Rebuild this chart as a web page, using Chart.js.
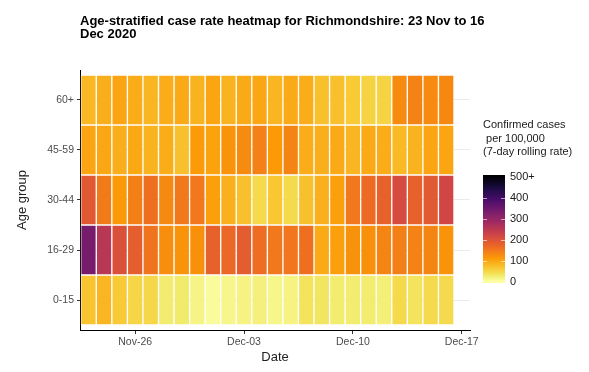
<!DOCTYPE html>
<html>
<head>
<meta charset="utf-8">
<script src="https://cdn.jsdelivr.net/npm/chart.js@4.4.1/dist/chart.umd.min.js"></script>
<style>
  html, body { margin: 0; padding: 0; background: #fff; }
  #wrap { width: 589px; height: 372px; }
</style>
</head>
<body>
<div id="wrap"><canvas id="heat" width="589" height="372"></canvas></div>
<script>
// Age-stratified heatmap, Richmondshire, 23 Nov - 16 Dec 2020

const AGE_GROUPS = ['0-15', '16-29', '30-44', '45-59', '60+'];
const DAYS = [
    '2020-11-23', '2020-11-24', '2020-11-25', '2020-11-26', '2020-11-27', '2020-11-28',
    '2020-11-29', '2020-11-30', '2020-12-01', '2020-12-02', '2020-12-03', '2020-12-04',
    '2020-12-05', '2020-12-06', '2020-12-07', '2020-12-08', '2020-12-09', '2020-12-10',
    '2020-12-11', '2020-12-12', '2020-12-13', '2020-12-14', '2020-12-15', '2020-12-16'
];

// 7-day rolling rate per 100,000, one array per age group
const RATE_0_15  = [68, 82, 62, 50, 48, 25, 28, 15, 4, 13, 16, 20, 13, 16, 36, 34, 26, 25, 26, 22, 45, 36, 45, 45];
const RATE_16_29 = [335, 252, 202, 182, 155, 125, 118, 122, 178, 168, 185, 162, 150, 152, 160, 95, 105, 120, 122, 135, 142, 138, 135, 118];
const RATE_30_44 = [190, 146, 112, 142, 160, 130, 148, 150, 105, 88, 72, 45, 65, 45, 72, 88, 105, 150, 165, 178, 211, 178, 188, 219];
const RATE_45_59 = [100, 98, 90, 96, 85, 92, 72, 110, 102, 118, 128, 140, 112, 135, 92, 90, 95, 82, 95, 92, 78, 85, 100, 100];
const RATE_60P   = [80, 90, 100, 92, 82, 92, 95, 85, 100, 85, 95, 98, 82, 95, 92, 72, 72, 62, 52, 52, 128, 138, 128, 132];

const RATES = [RATE_0_15, RATE_16_29, RATE_30_44, RATE_45_59, RATE_60P];

// x tick positions (day index) and labels
const X_TICKS = [3, 10, 17, 24];
const X_TICK_LABELS = ['Nov-26', 'Dec-03', 'Dec-10', 'Dec-17'];
const LEGEND_TICKS = [0, 100, 200, 300, 400, 500];
const LEGEND_LABELS = ['0', '100', '200', '300', '400', '500+'];

// inferno, reversed so that 0 is pale yellow
const INFERNO = ['#000004', '#1B0C42', '#4B0C6B', '#781C6D', '#A52C60', '#CF4446', '#ED6925', '#FB9A06', '#F7D03C', '#F1EB6C', '#FCFFA4'];
const INFERNO_T = [0, 1/9, 2/9, 3/9, 4/9, 5/9, 6/9, 7/9, 8/9, 0.945, 1];

function hexToRgb(h) {
    return [parseInt(h.slice(1, 3), 16), parseInt(h.slice(3, 5), 16), parseInt(h.slice(5, 7), 16)];
}

function rateColour(v) {
    let t = 1 - Math.min(Math.max(v, 0), 500) / 500;
    let i = 0;
    while (i < INFERNO_T.length - 2 && t > INFERNO_T[i + 1]) i++;
    const f = (t - INFERNO_T[i]) / (INFERNO_T[i + 1] - INFERNO_T[i]);
    const a = hexToRgb(INFERNO[i]), b = hexToRgb(INFERNO[i + 1]);
    const c = a.map((x, k) => Math.round(x + (b[k] - x) * f));
    return `rgb(${c[0]},${c[1]},${c[2]})`;
}

const datasets = AGE_GROUPS.map((g, row) => ({
    label: g,
    data: RATES[row].map((v, d) => ({ x: d, y: [row - 0.5, row + 0.5], v: v })),
    backgroundColor: RATES[row].map(rateColour),
    borderColor: 'rgba(255,255,255,0.22)',
    borderWidth: 1,
    borderSkipped: false,
    grouped: false,
    barPercentage: 1,
    categoryPercentage: 1,
}));

// Title and colour bar legend
const extras = {
    id: 'extras',
    afterDraw(chart) {
        const ctx = chart.ctx;
        const left = chart.chartArea.left;
        ctx.save();
        ctx.fillStyle = '#000';
        ctx.font = 'bold 13px "Liberation Sans", Arial, sans-serif';
        ctx.textBaseline = 'middle';
        ctx.textAlign = 'left';
        ctx.fillText('Age-stratified case rate heatmap for Richmondshire: 23 Nov to 16', left, 21);
        ctx.fillText('Dec 2020', left, 34.5);

        // legend title
        ctx.font = '11px "Liberation Sans", Arial, sans-serif';
        ctx.fillStyle = '#1a1a1a';
        ctx.fillText('Confirmed cases', 483, 125);
        ctx.fillText(' per 100,000', 483, 138.5);
        ctx.fillText('(7-day rolling rate)', 483, 152);

        // colour bar
        const bx = 483, bw = 22, yTop = 176.5, yBot = 281.5;
        const toY = v => yBot - (v / 500) * (yBot - yTop);
        const grad = ctx.createLinearGradient(0, yBot, 0, yTop);
        for (let k = 0; k <= 50; k++) grad.addColorStop(k / 50, rateColour(k * 10));
        ctx.fillStyle = grad;
        ctx.fillRect(bx, yTop - 1.5, bw, yBot - yTop + 3);
        ctx.strokeStyle = 'rgba(255,255,255,0.6)';
        ctx.lineWidth = 1;
        LEGEND_TICKS.slice(1, 5).forEach(v => {
            const y = Math.round(toY(v)) + 0.5;
            ctx.beginPath();
            ctx.moveTo(bx, y); ctx.lineTo(bx + 4, y);
            ctx.moveTo(bx + bw - 4, y); ctx.lineTo(bx + bw, y);
            ctx.stroke();
        });
        ctx.fillStyle = '#1a1a1a';
        ctx.font = '11px "Liberation Sans", Arial, sans-serif';
        LEGEND_TICKS.forEach((v, k) => ctx.fillText(LEGEND_LABELS[k], 510, toY(v)));
        ctx.restore();
    }
};

new Chart(document.getElementById('heat').getContext('2d'), {
    type: 'bar',
    data: { datasets: datasets },
    options: {
        responsive: false,
        animation: false,
        layout: { padding: { left: 0, top: 70, right: 119, bottom: 0 } },
        plugins: {
            legend: { display: false },
            tooltip: { enabled: false },
        },
        scales: {
            x: {
                type: 'linear',
                min: -0.547,
                max: 24.53,
                offset: false,
                afterFit: s => { s.height = 42; },
                afterBuildTicks: s => { s.ticks = X_TICKS.map(v => ({ value: v })); },
                ticks: {
                    autoSkip: false,
                    maxRotation: 0,
                    padding: 2,
                    color: '#4d4d4d',
                    font: { size: 10.5, family: '"Liberation Sans", Arial, sans-serif' },
                    callback: (v) => X_TICK_LABELS[X_TICKS.indexOf(v)],
                },
                grid: { offset: false, drawOnChartArea: false, drawTicks: true, tickLength: 4, tickColor: '#333' },
                border: { display: true, color: '#000', width: 1 },
                title: {
                    display: true, text: 'Date', color: '#222',
                    font: { size: 13, family: '"Liberation Sans", Arial, sans-serif' },
                    padding: { top: 2, bottom: 7 },
                },
            },
            y: {
                type: 'linear',
                min: -0.6,
                max: 4.6,
                afterFit: s => { s.width = 80; },
                afterBuildTicks: s => { s.ticks = AGE_GROUPS.map((g, i) => ({ value: i })); },
                ticks: {
                    autoSkip: false,
                    padding: 3,
                    color: '#4d4d4d',
                    font: { size: 10.5, family: '"Liberation Sans", Arial, sans-serif' },
                    callback: (v) => AGE_GROUPS[v],
                },
                grid: { offset: false, color: '#ebebeb', lineWidth: 1, tickLength: 3, tickColor: '#333' },
                border: { display: true, color: '#000', width: 1 },
                title: {
                    display: true, text: 'Age group', color: '#222',
                    font: { size: 13, family: '"Liberation Sans", Arial, sans-serif' },
                    padding: { top: 15, bottom: 0 },
                },
            },
        },
    },
    plugins: [extras],
});
</script>
</body>
</html>
